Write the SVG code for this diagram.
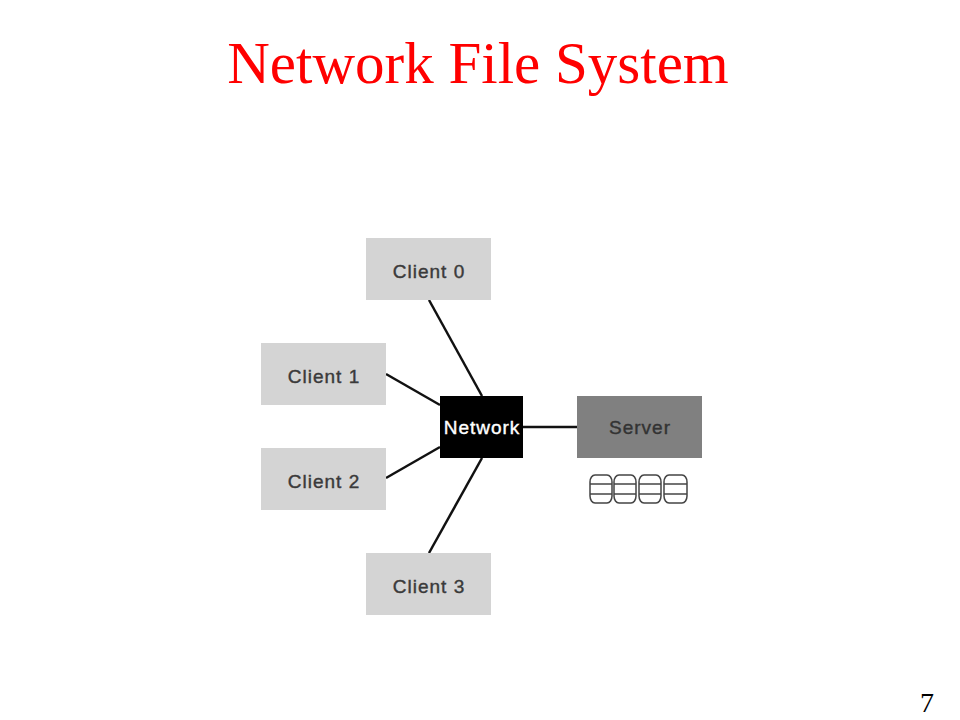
<svg xmlns="http://www.w3.org/2000/svg" width="960" height="720" viewBox="0 0 960 720">
<style>
.client{fill:#d4d4d4}
.lbl{font-family:"Liberation Sans",Arial,sans-serif;font-size:19px;letter-spacing:1px;text-anchor:middle;fill:#3a3a3a;stroke:#3a3a3a;stroke-width:0.4}
.edge{stroke:#111;stroke-width:2.5;fill:none}
.disk{fill:#fff;stroke:#444;stroke-width:1.5}
</style>
<rect width="960" height="720" fill="#fff"/>
<text x="478" y="83" font-family="'Liberation Serif','Times New Roman',serif" font-size="59" fill="#ff0000" text-anchor="middle">Network File System</text>
<g id="connectors">
<line class="edge" x1="429" y1="300" x2="482" y2="396"/>
<line class="edge" x1="386" y1="374" x2="440" y2="405"/>
<line class="edge" x1="386" y1="478" x2="440" y2="447"/>
<line class="edge" x1="482" y1="458" x2="429" y2="553"/>
<line class="edge" x1="523" y1="427" x2="577" y2="427"/>
</g>
<g id="client0"><rect class="client" x="366" y="238" width="125" height="62"/><text class="lbl" x="429" y="278">Client 0</text></g>
<g id="client1"><rect class="client" x="261" y="343" width="125" height="62"/><text class="lbl" x="324" y="383">Client 1</text></g>
<g id="client2"><rect class="client" x="261" y="448" width="125" height="62"/><text class="lbl" x="324" y="488">Client 2</text></g>
<g id="client3"><rect class="client" x="366" y="553" width="125" height="62"/><text class="lbl" x="429" y="593">Client 3</text></g>
<g id="network"><rect x="440" y="396" width="83" height="62" fill="#000"/><text class="lbl" x="482" y="434" style="fill:#fff;stroke:#fff">Network</text></g>
<g id="server"><rect x="577" y="396" width="125" height="62" fill="#808080"/><text class="lbl" x="640" y="434" style="fill:#333;stroke:#333">Server</text></g>
<g id="disks">
<g id="disk0"><rect class="disk" x="590" y="475" width="22" height="28" rx="5" ry="7"/><line class="disk" x1="590" y1="484" x2="612" y2="484"/><line class="disk" x1="590" y1="494" x2="612" y2="494"/></g>
<g id="disk1"><rect class="disk" x="614" y="475" width="22" height="28" rx="5" ry="7"/><line class="disk" x1="614" y1="484" x2="636" y2="484"/><line class="disk" x1="614" y1="494" x2="636" y2="494"/></g>
<g id="disk2"><rect class="disk" x="639" y="475" width="22" height="28" rx="5" ry="7"/><line class="disk" x1="639" y1="484" x2="661" y2="484"/><line class="disk" x1="639" y1="494" x2="661" y2="494"/></g>
<g id="disk3"><rect class="disk" x="664" y="475" width="23" height="28" rx="5" ry="7"/><line class="disk" x1="664" y1="484" x2="687" y2="484"/><line class="disk" x1="664" y1="494" x2="687" y2="494"/></g>
</g>
<text x="934" y="712" font-family="'Liberation Serif','Times New Roman',serif" font-size="28" fill="#000" text-anchor="end">7</text>
</svg>
